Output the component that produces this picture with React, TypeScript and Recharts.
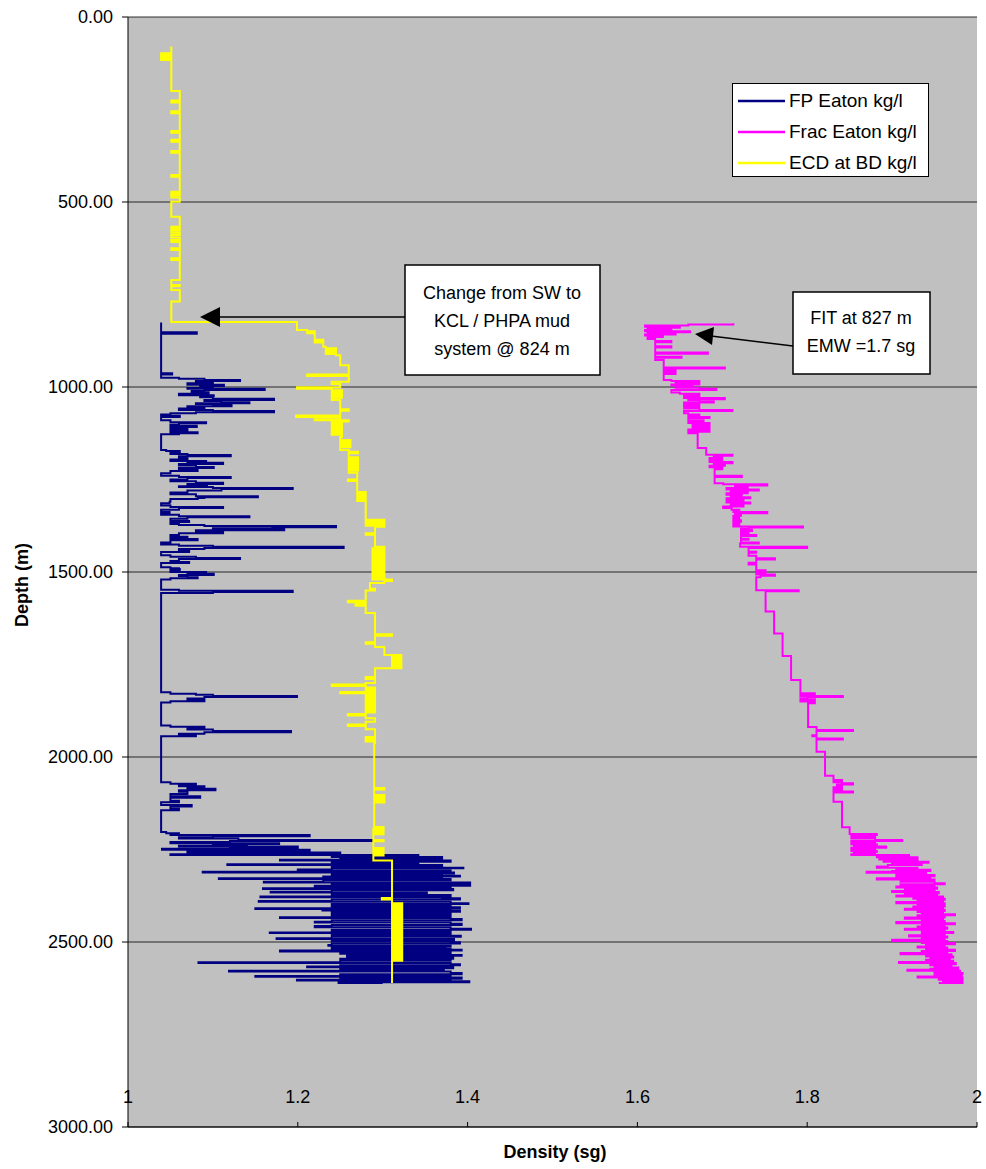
import { LineChart, Line, XAxis, YAxis, CartesianGrid, Legend } from "recharts";

const depthTicks = [0, 500, 1000, 1500, 2000, 2500, 3000];
const densityTicks = [1, 1.2, 1.4, 1.6, 1.8, 2];

// [depth m, density sg] - FP Eaton
const fpEaton: [number, number][] = [
  [826, 1.039], [852, 1.081], [856, 1.039], [960, 1.039], [963, 1.052], [966, 1.039],
  [975, 1.06], [978, 1.09], [981, 1.132], [984, 1.08], [987, 1.1], [990, 1.07], [994, 1.113],
  [997, 1.085], [1000, 1.1], [1003, 1.07], [1005, 1.161], [1008, 1.09], [1011, 1.075],
  [1014, 1.095], [1018, 1.06], [1022, 1.101], [1025, 1.085], [1028, 1.1], [1032, 1.172],
  [1035, 1.09], [1038, 1.11], [1041, 1.143], [1044, 1.08], [1046, 1.1], [1049, 1.122],
  [1052, 1.07], [1055, 1.09], [1058, 1.06], [1062, 1.1], [1065, 1.172], [1068, 1.08],
  [1071, 1.05], [1074, 1.039], [1078, 1.061], [1081, 1.039], [1090, 1.05], [1095, 1.092],
  [1098, 1.06], [1102, 1.05], [1105, 1.081], [1108, 1.05], [1113, 1.07], [1117, 1.05],
  [1122, 1.082], [1125, 1.06], [1128, 1.039],
  [1170, 1.045], [1173, 1.061], [1176, 1.05], [1181, 1.07], [1184, 1.121], [1187, 1.06],
  [1192, 1.07], [1196, 1.05], [1200, 1.092], [1203, 1.07], [1205, 1.112], [1208, 1.06],
  [1212, 1.08], [1216, 1.101], [1219, 1.06], [1224, 1.082], [1227, 1.05], [1233, 1.039],
  [1240, 1.06], [1243, 1.121], [1246, 1.07], [1250, 1.05], [1255, 1.08], [1259, 1.112],
  [1262, 1.07], [1265, 1.093], [1268, 1.06], [1270, 1.1], [1273, 1.194], [1276, 1.11],
  [1280, 1.07], [1285, 1.05], [1290, 1.08], [1295, 1.153], [1298, 1.09], [1300, 1.082],
  [1303, 1.05], [1310, 1.049], [1314, 1.039], [1320, 1.05], [1324, 1.112], [1327, 1.06],
  [1332, 1.039], [1338, 1.049], [1341, 1.039], [1345, 1.06], [1349, 1.143], [1352, 1.07],
  [1356, 1.05], [1362, 1.072], [1365, 1.05], [1370, 1.06], [1373, 1.09], [1376, 1.245],
  [1379, 1.17], [1382, 1.1], [1384, 1.184], [1387, 1.08], [1392, 1.112], [1395, 1.06],
  [1400, 1.05], [1405, 1.07], [1408, 1.05], [1411, 1.082], [1414, 1.05], [1420, 1.039],
  [1426, 1.06], [1429, 1.1], [1432, 1.254], [1435, 1.09], [1438, 1.06], [1443, 1.072],
  [1446, 1.039], [1455, 1.05], [1459, 1.08], [1462, 1.132], [1465, 1.06], [1470, 1.05],
  [1473, 1.072], [1476, 1.039], [1487, 1.05], [1490, 1.06], [1492, 1.061], [1495, 1.05],
  [1500, 1.092], [1503, 1.07], [1505, 1.101], [1508, 1.06], [1511, 1.07], [1514, 1.082],
  [1517, 1.05], [1520, 1.039], [1548, 1.06], [1551, 1.194], [1554, 1.1], [1557, 1.039],
  [1825, 1.05], [1829, 1.08], [1832, 1.1], [1835, 1.199], [1838, 1.09], [1842, 1.07],
  [1846, 1.09], [1849, 1.05], [1853, 1.039],
  [1915, 1.05], [1918, 1.09], [1922, 1.07], [1926, 1.1], [1930, 1.192], [1933, 1.09],
  [1937, 1.06], [1941, 1.08], [1944, 1.039],
  [2068, 1.05], [2072, 1.08], [2075, 1.06], [2079, 1.09], [2082, 1.07], [2086, 1.103],
  [2090, 1.06], [2094, 1.07], [2100, 1.05], [2106, 1.085], [2110, 1.05], [2118, 1.06],
  [2122, 1.039], [2130, 1.075], [2134, 1.05], [2140, 1.06], [2144, 1.039],
  [2203, 1.045], [2206, 1.06], [2209, 1.05], [2211, 1.214], [2214, 1.1], [2217, 1.06],
  [2220, 1.13], [2224, 1.29], [2227, 1.12], [2230, 1.05], [2233, 1.178], [2235, 1.1],
  [2238, 1.14], [2240, 1.06], [2242, 1.2], [2245, 1.12], [2248, 1.04], [2251, 1.214],
  [2254, 1.13], [2256, 1.07], [2258, 1.25], [2261, 1.15], [2263, 1.05],
  [2265, 1.342], [2267, 1.24], [2270, 1.37], [2274, 1.25], [2278, 1.179], [2280, 1.38],
  [2283, 1.24], [2285, 1.342], [2287, 1.24], [2290, 1.117], [2292, 1.37], [2295, 1.24],
  [2299, 1.395], [2301, 1.24], [2304, 1.2], [2307, 1.38], [2310, 1.088], [2312, 1.384],
  [2315, 1.24], [2318, 1.37], [2321, 1.391], [2323, 1.23], [2325, 1.37], [2328, 1.107],
  [2330, 1.38], [2333, 1.23], [2337, 1.16], [2339, 1.403], [2342, 1.24], [2346, 1.403],
  [2348, 1.22], [2351, 1.38], [2355, 1.159], [2357, 1.383], [2360, 1.24], [2364, 1.168],
  [2366, 1.352], [2369, 1.24], [2373, 1.38], [2377, 1.156], [2379, 1.37], [2382, 1.391],
  [2385, 1.24], [2389, 1.154], [2391, 1.38], [2395, 1.401], [2397, 1.24], [2400, 1.38],
  [2403, 1.24], [2406, 1.391], [2409, 1.15], [2411, 1.38], [2413, 1.229], [2415, 1.391],
  [2418, 1.24], [2421, 1.38], [2424, 1.24], [2428, 1.38], [2431, 1.362], [2433, 1.179],
  [2435, 1.38], [2438, 1.393], [2441, 1.24], [2445, 1.22], [2447, 1.38], [2451, 1.393],
  [2454, 1.24], [2457, 1.22], [2460, 1.38], [2464, 1.404], [2467, 1.24], [2470, 1.38],
  [2472, 1.364], [2474, 1.167], [2476, 1.38], [2479, 1.24], [2483, 1.392], [2486, 1.24],
  [2490, 1.175], [2492, 1.384], [2495, 1.24], [2498, 1.38], [2501, 1.391], [2504, 1.24],
  [2508, 1.236], [2510, 1.38], [2512, 1.374], [2515, 1.24], [2518, 1.38], [2521, 1.393],
  [2523, 1.179], [2526, 1.38], [2529, 1.25], [2532, 1.38], [2535, 1.393], [2537, 1.258],
  [2540, 1.38], [2542, 1.383], [2545, 1.25], [2548, 1.38], [2551, 1.25], [2555, 1.083],
  [2557, 1.38], [2560, 1.391], [2563, 1.25], [2566, 1.211], [2568, 1.383], [2571, 1.25],
  [2575, 1.372], [2578, 1.119], [2580, 1.38], [2584, 1.393], [2587, 1.25], [2590, 1.38],
  [2592, 1.15], [2594, 1.38], [2596, 1.393], [2599, 1.25], [2602, 1.199], [2604, 1.38],
  [2606, 1.402], [2609, 1.248], [2611, 1.3],
];

// [depth m, density sg] - Frac Eaton
const fracEaton: [number, number][] = [
  [828, 1.713], [831, 1.66], [834, 1.609], [837, 1.65], [840, 1.612], [843, 1.64],
  [846, 1.609], [849, 1.662], [852, 1.612], [855, 1.645], [858, 1.609], [861, 1.63],
  [865, 1.612], [870, 1.621], [876, 1.64], [879, 1.621], [890, 1.64], [893, 1.621],
  [907, 1.683], [910, 1.621], [918, 1.652], [921, 1.621], [927, 1.631], [947, 1.703],
  [950, 1.631], [955, 1.645], [958, 1.631], [962, 1.645], [965, 1.631], [981, 1.64],
  [984, 1.673], [987, 1.645], [990, 1.673], [993, 1.64], [996, 1.665], [999, 1.645],
  [1002, 1.673], [1005, 1.693], [1008, 1.64], [1015, 1.65], [1018, 1.673], [1021, 1.655],
  [1024, 1.673], [1027, 1.655], [1030, 1.703], [1033, 1.66], [1036, 1.673], [1039, 1.69],
  [1042, 1.655], [1045, 1.673], [1048, 1.655], [1051, 1.673], [1054, 1.655], [1058, 1.673],
  [1062, 1.712], [1065, 1.655], [1071, 1.66], [1074, 1.673], [1077, 1.66], [1081, 1.685],
  [1084, 1.66], [1090, 1.678], [1093, 1.66], [1097, 1.685], [1100, 1.665], [1104, 1.685],
  [1107, 1.665], [1111, 1.685], [1115, 1.66], [1118, 1.685], [1121, 1.66], [1125, 1.671],
  [1165, 1.681], [1183, 1.712], [1186, 1.69], [1189, 1.7], [1192, 1.685], [1196, 1.7],
  [1200, 1.685], [1203, 1.712], [1206, 1.69], [1210, 1.703], [1213, 1.685], [1217, 1.7],
  [1222, 1.691], [1240, 1.723], [1243, 1.691], [1260, 1.701], [1263, 1.753], [1266, 1.715],
  [1270, 1.73], [1273, 1.705], [1277, 1.743], [1280, 1.71], [1284, 1.73], [1287, 1.705],
  [1291, 1.723], [1294, 1.71], [1298, 1.733], [1301, 1.705], [1305, 1.725], [1308, 1.705],
  [1312, 1.733], [1315, 1.71], [1319, 1.725], [1323, 1.701], [1327, 1.711], [1332, 1.72],
  [1335, 1.713], [1338, 1.753], [1341, 1.715], [1345, 1.722], [1348, 1.713], [1352, 1.72],
  [1356, 1.713], [1360, 1.722], [1364, 1.713], [1368, 1.72], [1372, 1.713], [1377, 1.795],
  [1380, 1.731], [1383, 1.722], [1386, 1.735], [1389, 1.722], [1393, 1.731], [1396, 1.722],
  [1400, 1.74], [1403, 1.722], [1410, 1.731], [1413, 1.722], [1420, 1.743], [1423, 1.721],
  [1432, 1.8], [1435, 1.731], [1445, 1.74], [1448, 1.731], [1456, 1.74], [1463, 1.762],
  [1466, 1.74], [1475, 1.731], [1480, 1.74], [1492, 1.74], [1495, 1.751], [1498, 1.74],
  [1501, 1.751], [1504, 1.74], [1507, 1.762], [1510, 1.745], [1514, 1.74], [1549, 1.79],
  [1552, 1.751], [1607, 1.761], [1666, 1.771], [1727, 1.781], [1792, 1.792], [1828, 1.809],
  [1831, 1.792], [1835, 1.842], [1838, 1.8], [1841, 1.792], [1844, 1.809], [1847, 1.792],
  [1850, 1.809], [1855, 1.801], [1919, 1.811], [1927, 1.854], [1930, 1.811], [1941, 1.806],
  [1944, 1.811], [1950, 1.842], [1953, 1.811], [1986, 1.821], [2051, 1.831], [2062, 1.841],
  [2065, 1.831], [2068, 1.841], [2071, 1.854], [2074, 1.835], [2078, 1.841], [2082, 1.831],
  [2086, 1.841], [2090, 1.831], [2093, 1.854], [2096, 1.831], [2121, 1.841], [2190, 1.85],
  [2208, 1.882], [2211, 1.852], [2214, 1.88], [2217, 1.852], [2220, 1.88], [2224, 1.912],
  [2227, 1.852], [2230, 1.88], [2233, 1.852], [2236, 1.882], [2239, 1.855], [2242, 1.893],
  [2245, 1.852], [2248, 1.88], [2251, 1.852], [2254, 1.882], [2257, 1.855], [2260, 1.88],
  [2263, 1.852], [2265, 1.92], [2268, 1.882], [2271, 1.93], [2274, 1.885], [2277, 1.93],
  [2280, 1.89], [2283, 1.943], [2286, 1.9], [2289, 1.935], [2292, 1.895], [2296, 1.882],
  [2299, 1.93], [2302, 1.905], [2305, 1.945], [2308, 1.9], [2310, 1.87], [2313, 1.94],
  [2316, 1.905], [2319, 1.95], [2322, 1.905], [2325, 1.945], [2328, 1.882], [2331, 1.95],
  [2334, 1.91], [2337, 1.95], [2341, 1.962], [2344, 1.91], [2347, 1.95], [2350, 1.905],
  [2353, 1.953], [2356, 1.915], [2359, 1.95], [2362, 1.9], [2365, 1.955], [2368, 1.915],
  [2371, 1.953], [2374, 1.905], [2377, 1.96], [2380, 1.925], [2383, 1.962], [2386, 1.93],
  [2389, 1.96], [2392, 1.905], [2395, 1.962], [2398, 1.93], [2401, 1.962], [2404, 1.925],
  [2407, 1.96], [2410, 1.915], [2413, 1.962], [2416, 1.93], [2419, 1.96], [2422, 1.935],
  [2425, 1.974], [2428, 1.93], [2431, 1.962], [2434, 1.915], [2437, 1.96], [2440, 1.935],
  [2443, 1.962], [2446, 1.905], [2449, 1.974], [2452, 1.935], [2455, 1.962], [2458, 1.93],
  [2461, 1.965], [2464, 1.915], [2467, 1.962], [2470, 1.935], [2473, 1.972], [2476, 1.935],
  [2479, 1.962], [2482, 1.92], [2485, 1.965], [2488, 1.935], [2491, 1.962], [2494, 1.9],
  [2497, 1.965], [2500, 1.935], [2503, 1.974], [2506, 1.94], [2509, 1.962], [2512, 1.93],
  [2515, 1.965], [2518, 1.94], [2521, 1.974], [2524, 1.935], [2527, 1.965], [2530, 1.91],
  [2533, 1.97], [2536, 1.94], [2539, 1.972], [2542, 1.945], [2545, 1.968], [2548, 1.94],
  [2551, 1.972], [2554, 1.908], [2557, 1.975], [2560, 1.945], [2563, 1.97], [2566, 1.95],
  [2569, 1.978], [2572, 1.945], [2575, 1.918], [2578, 1.98], [2581, 1.95], [2584, 1.983],
  [2587, 1.95], [2590, 1.982], [2593, 1.93], [2596, 1.983], [2599, 1.955], [2602, 1.983],
  [2605, 1.96], [2608, 1.983], [2611, 1.955],
];

// [depth m, density sg] - ECD at BD
const ecdAtBd: [number, number][] = [
  [80, 1.051], [98, 1.039], [101, 1.051], [104, 1.039], [108, 1.051], [112, 1.039],
  [116, 1.051], [200, 1.061], [226, 1.051], [231, 1.061], [255, 1.051], [260, 1.061],
  [308, 1.051], [313, 1.061], [332, 1.051], [337, 1.061], [362, 1.051], [367, 1.061],
  [427, 1.051], [432, 1.061], [472, 1.051], [477, 1.061], [482, 1.051], [488, 1.061],
  [499, 1.051], [540, 1.061], [567, 1.051], [572, 1.061], [577, 1.051], [583, 1.061],
  [589, 1.051], [596, 1.061], [603, 1.051], [608, 1.061], [625, 1.051], [630, 1.061],
  [652, 1.051], [657, 1.061], [711, 1.051], [724, 1.061], [728, 1.051], [738, 1.061],
  [769, 1.051], [824, 1.199], [846, 1.211], [849, 1.22], [852, 1.211], [855, 1.22],
  [872, 1.23], [876, 1.22], [880, 1.23], [891, 1.233], [895, 1.245], [899, 1.233],
  [903, 1.245], [907, 1.233], [911, 1.245], [914, 1.25], [941, 1.26], [966, 1.211],
  [970, 1.26], [986, 1.24], [992, 1.25], [1001, 1.199], [1005, 1.24], [1009, 1.252],
  [1013, 1.24], [1017, 1.252], [1021, 1.24], [1025, 1.252], [1029, 1.24], [1035, 1.25],
  [1060, 1.26], [1064, 1.25], [1077, 1.198], [1081, 1.25], [1087, 1.22], [1090, 1.26],
  [1093, 1.24], [1097, 1.252], [1101, 1.24], [1105, 1.252], [1109, 1.24], [1113, 1.252],
  [1117, 1.24], [1121, 1.252], [1125, 1.24], [1129, 1.252], [1135, 1.25], [1143, 1.262],
  [1147, 1.25], [1151, 1.262], [1155, 1.25], [1159, 1.262], [1163, 1.25], [1170, 1.26],
  [1175, 1.271], [1179, 1.26], [1190, 1.271], [1194, 1.26], [1198, 1.271], [1202, 1.26],
  [1206, 1.271], [1210, 1.26], [1214, 1.271], [1218, 1.26], [1222, 1.271], [1226, 1.26],
  [1232, 1.27], [1250, 1.259], [1254, 1.27], [1284, 1.28], [1288, 1.27], [1292, 1.28],
  [1296, 1.27], [1300, 1.28], [1304, 1.27], [1308, 1.28], [1359, 1.302], [1363, 1.28],
  [1367, 1.302], [1371, 1.28], [1375, 1.302], [1378, 1.291], [1395, 1.28], [1399, 1.291],
  [1432, 1.302], [1436, 1.288], [1440, 1.302], [1444, 1.288], [1448, 1.302], [1452, 1.288],
  [1456, 1.302], [1460, 1.288], [1464, 1.302], [1468, 1.288], [1472, 1.302], [1476, 1.288],
  [1480, 1.302], [1484, 1.288], [1488, 1.302], [1492, 1.288], [1496, 1.302], [1500, 1.288],
  [1504, 1.302], [1508, 1.288], [1512, 1.302], [1516, 1.288], [1520, 1.311], [1524, 1.302],
  [1530, 1.285], [1545, 1.291], [1550, 1.28], [1578, 1.259], [1582, 1.28], [1587, 1.268],
  [1591, 1.28], [1611, 1.291], [1668, 1.311], [1672, 1.291], [1690, 1.28], [1694, 1.291],
  [1703, 1.302], [1724, 1.322], [1728, 1.311], [1732, 1.322], [1736, 1.311], [1740, 1.322],
  [1744, 1.311], [1748, 1.322], [1752, 1.311], [1756, 1.322], [1760, 1.291], [1784, 1.28],
  [1789, 1.291], [1800, 1.28], [1804, 1.24], [1808, 1.28], [1812, 1.291], [1816, 1.28],
  [1820, 1.291], [1824, 1.25], [1828, 1.291], [1832, 1.28], [1836, 1.291], [1840, 1.28],
  [1844, 1.291], [1848, 1.28], [1852, 1.291], [1856, 1.28], [1860, 1.291], [1864, 1.28],
  [1868, 1.291], [1872, 1.28], [1876, 1.291], [1880, 1.28], [1884, 1.259], [1888, 1.28],
  [1895, 1.291], [1905, 1.28], [1912, 1.259], [1916, 1.28], [1925, 1.291], [1946, 1.28],
  [1950, 1.291], [1954, 1.28], [1958, 1.291], [1962, 1.29], [2084, 1.302], [2088, 1.29],
  [2103, 1.302], [2107, 1.29], [2111, 1.302], [2115, 1.29], [2119, 1.302], [2123, 1.29],
  [2189, 1.301], [2193, 1.289], [2197, 1.301], [2201, 1.289], [2205, 1.301], [2209, 1.289],
  [2224, 1.301], [2228, 1.289], [2246, 1.301], [2250, 1.289], [2254, 1.301], [2258, 1.289],
  [2262, 1.301], [2266, 1.289], [2280, 1.311], [2381, 1.299], [2385, 1.311], [2395, 1.323],
  [2399, 1.311], [2403, 1.323], [2407, 1.311], [2411, 1.323], [2415, 1.311], [2419, 1.323],
  [2423, 1.311], [2427, 1.323], [2431, 1.311], [2435, 1.323], [2439, 1.311], [2443, 1.323],
  [2447, 1.311], [2451, 1.323], [2455, 1.311], [2459, 1.323], [2463, 1.311], [2467, 1.323],
  [2471, 1.311], [2475, 1.323], [2479, 1.311], [2483, 1.323], [2487, 1.311], [2491, 1.323],
  [2495, 1.311], [2499, 1.323], [2503, 1.311], [2507, 1.323], [2511, 1.311], [2515, 1.323],
  [2519, 1.311], [2523, 1.323], [2527, 1.311], [2531, 1.323], [2535, 1.311], [2539, 1.323],
  [2543, 1.311], [2547, 1.323], [2551, 1.311], [2611, 1.311],
];

const series = [
  { name: "FP Eaton kg/l", color: "#000080", points: fpEaton },
  { name: "Frac Eaton kg/l", color: "#FF00FF", points: fracEaton },
  { name: "ECD at BD kg/l", color: "#FFFF00", points: ecdAtBd },
];

const FONT = "Arial, 'Liberation Sans', sans-serif";

const toRows = (pts: [number, number][]) => pts.map(([depth, value]) => ({ depth, value }));

const renderLegend = () => (
  <div
    style={{
      width: 197,
      height: 94,
      boxSizing: "border-box",
      border: "1px solid #000",
      background: "#fff",
      paddingTop: 1,
      paddingLeft: 5,
      fontFamily: FONT,
      fontSize: 19,
      color: "#000",
    }}
  >
    {series.map((s) => (
      <div key={s.name} style={{ display: "flex", alignItems: "center", height: 31 }}>
        <svg width={47} height={4}>
          <line x1={0} y1={2} x2={47} y2={2} stroke={s.color} strokeWidth={2.5} />
        </svg>
        <span style={{ marginLeft: 4, whiteSpace: "nowrap" }}>{s.name}</span>
      </div>
    ))}
  </div>
);

export default function App() {
  return (
    <div style={{ position: "absolute", left: 0, top: 0, width: 986, height: 1169, background: "#fff" }}>
      <LineChart
        width={986}
        height={1169}
        layout="vertical"
        margin={{ top: 17, right: 9, bottom: 42, left: 0 }}
      >
        <CartesianGrid vertical={false} stroke="#000" fill="#C0C0C0" strokeOpacity={0.8} />
        <XAxis
          type="number"
          dataKey="value"
          domain={[1, 2]}
          ticks={densityTicks}
          allowDataOverflow
          orientation="bottom"
          mirror
          tickSize={5}
          tickMargin={19}
          stroke="#000"
          tick={{ fill: "#000", fontSize: 18, fontFamily: FONT }}
          tickFormatter={(v: number) => String(Number(v.toFixed(1)))}
        />
        <YAxis
          type="number"
          dataKey="depth"
          domain={[0, 3000]}
          ticks={depthTicks}
          allowDataOverflow
          width={128}
          tickSize={6}
          tickMargin={9}
          stroke="#000"
          tick={{ fill: "#000", fontSize: 18, fontFamily: FONT }}
          tickFormatter={(v: number) => v.toFixed(2)}
        />
        <Legend
          layout="horizontal"
          verticalAlign="middle"
          align="center"
          content={renderLegend}
          wrapperStyle={{ position: "absolute", top: 83, left: 732, width: 197, height: 94 }}
        />
        {series.map((s) => (
          <Line
            key={s.name}
            name={s.name}
            data={toRows(s.points)}
            dataKey="value"
            type="stepBefore"
            stroke={s.color}
            strokeWidth={2}
            dot={false}
            activeDot={false}
            isAnimationActive={false}
          />
        ))}
      </LineChart>
      <svg
        width={986}
        height={1169}
        style={{ position: "absolute", left: 0, top: 0, pointerEvents: "none" }}
        fontFamily={FONT}
      >
        {/* callout: mud system change */}
        <rect x={405} y={265} width={195} height={110} fill="#fff" stroke="#000" strokeWidth={1.5} />
        <text x={502} y={299} fontSize={18} textAnchor="middle">Change from SW to</text>
        <text x={502} y={327} fontSize={18} textAnchor="middle">KCL / PHPA mud</text>
        <text x={502} y={355} fontSize={18} textAnchor="middle">system @ 824 m</text>
        <line x1={405} y1={317} x2={218} y2={317} stroke="#000" strokeWidth={1.5} />
        <polygon points="200,317 220,307 220,327" fill="#000" />
        {/* callout: FIT */}
        <rect x={793} y={292} width={137} height={82} fill="#fff" stroke="#000" strokeWidth={1.5} />
        <text x={861} y={324} fontSize={18} textAnchor="middle">FIT at 827 m</text>
        <text x={861} y={352} fontSize={18} textAnchor="middle">EMW =1.7 sg</text>
        <line x1={793} y1={346} x2={711} y2={336} stroke="#000" strokeWidth={1.5} />
        <polygon points="695,334 714,327 712,345" fill="#000" />
        {/* axis titles */}
        <text x={555} y={1158} fontSize={18} fontWeight="bold" textAnchor="middle">Density (sg)</text>
        <text
          x={0}
          y={0}
          fontSize={18}
          fontWeight="bold"
          textAnchor="middle"
          transform="translate(28 585) rotate(-90)"
        >
          Depth (m)
        </text>
      </svg>
    </div>
  );
}
